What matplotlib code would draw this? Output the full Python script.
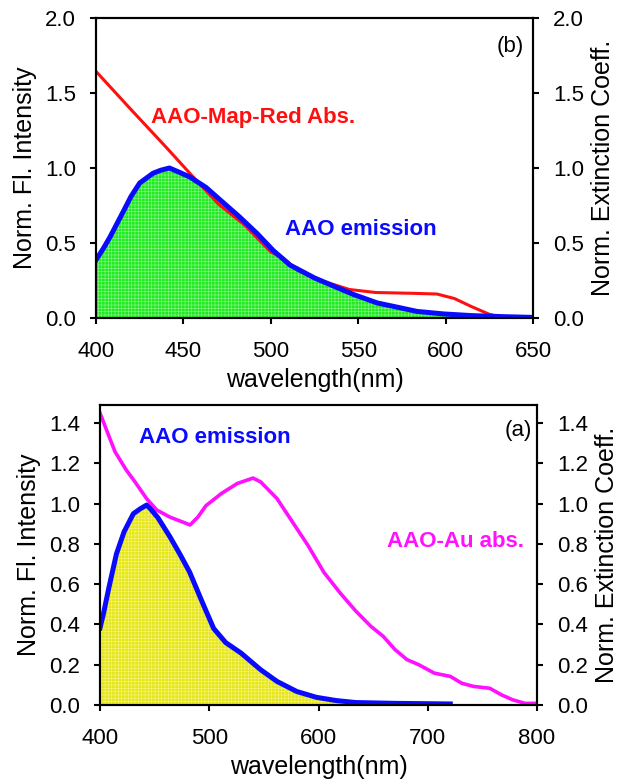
import numpy as np
import matplotlib
matplotlib.use("Agg")
import matplotlib.pyplot as plt

plt.rcParams["font.family"] = ["Liberation Sans", "DejaVu Sans"]
plt.rcParams["hatch.linewidth"] = 0.4

# -----------------------------------------------------
# Panel (b) data : AAO emission + AAO-Map-Red absorption
# -----------------------------------------------------
b_em_wl = [400, 404, 408, 415.6, 420, 425, 432.6, 437, 442, 447, 453.7, 463,
           472.7, 482, 492, 501.4, 511, 525, 538.5, 547.5, 561, 570, 583.6,
           599, 615, 633, 650]
b_em_val = [0.387, 0.46, 0.54, 0.71, 0.81, 0.90, 0.965, 0.985, 1.0, 0.975,
            0.94, 0.87, 0.77, 0.675, 0.565, 0.45, 0.353, 0.267, 0.20, 0.156,
            0.10, 0.078, 0.044, 0.027, 0.016, 0.009, 0.004]

b_abs_wl = [400, 420, 440, 455.6, 470, 485, 500, 507, 515, 530, 545, 560, 580,
            595, 605, 615, 625, 632, 650]
b_abs_val = [1.644, 1.39, 1.14, 0.94, 0.76, 0.62, 0.44, 0.40, 0.32, 0.245,
             0.19, 0.17, 0.165, 0.16, 0.13, 0.075, 0.025, 0.005, 0.0]

# -----------------------------------------------------
# Panel (a) data : AAO emission + AAO-Au absorption
# -----------------------------------------------------
a_em_wl = [400, 403, 408, 415, 422, 430.5, 437, 442.7, 446, 453, 464, 473,
           482, 494, 504, 515, 529, 547, 562, 580, 598, 616, 634, 670, 720.6]
a_em_val = [0.383, 0.45, 0.58, 0.75, 0.86, 0.95, 0.975, 0.993, 0.975, 0.93,
            0.835, 0.75, 0.66, 0.505, 0.38, 0.31, 0.258, 0.175, 0.117, 0.067,
            0.038, 0.022, 0.012, 0.008, 0.005]

a_abs_wl = [400, 406.5, 413.7, 424, 432, 442.6, 452, 464, 475, 482.4, 489.5,
            497, 511, 525.6, 540, 547, 562, 576, 590.6, 605, 619.5, 634, 648,
            659, 670, 681, 691.7, 706, 720.6, 731, 742, 756.7, 767.5, 778, 789,
            800]
a_abs_val = [1.45, 1.358, 1.258, 1.167, 1.108, 1.025, 0.968, 0.933, 0.91,
             0.894, 0.933, 0.99, 1.05, 1.10, 1.127, 1.108, 1.025, 0.91, 0.79,
             0.658, 0.558, 0.467, 0.39, 0.342, 0.275, 0.225, 0.20, 0.158,
             0.142, 0.108, 0.092, 0.083, 0.05, 0.025, 0.008, 0.008]

fig = plt.figure(figsize=(6.19, 7.8), dpi=100)

TICK = 16
LAB = 18
ANN = 16


def style_axes(ax, ax2, xlim, xticks, ylim, yticks):
    ax.set_xlim(*xlim)
    ax.set_ylim(*ylim)
    ax2.set_ylim(*ylim)
    ax.set_xticks(xticks)
    ax.set_yticks(yticks)
    ax2.set_yticks(yticks)
    ax.set_yticklabels([f"{v:.1f}" for v in yticks])
    ax2.set_yticklabels([f"{v:.1f}" for v in yticks])
    for a in (ax, ax2):
        for s in a.spines.values():
            s.set_linewidth(1.5)
        a.tick_params(direction="out", length=4.5, width=1.5, labelsize=TICK)
        a.tick_params(axis="y", pad=10)
    ax.tick_params(axis="x", pad=12, top=False)
    ax.set_xlabel("wavelength(nm)", fontsize=LAB, labelpad=4.5)
    ax.set_ylabel("Norm. Fl. Intensity", fontsize=LAB, labelpad=6)
    ax2.set_ylabel("Norm. Extinction Coeff.", fontsize=LAB, labelpad=5)


# ---------------------------------------------------
# TOP PANEL (b)
# ---------------------------------------------------
ax_b = fig.add_axes([0.1551, 0.5923, 0.7060, 0.3846])
ax_b2 = ax_b.twinx()

ax_b.fill_between(b_em_wl, 0, b_em_val, facecolor="#22ea22",
                  edgecolor="#90f590", hatch="+++++", linewidth=0, zorder=1)
ax_b.plot(b_abs_wl, b_abs_val, color="#ff1010", lw=2.2, zorder=2)
ax_b.plot(b_em_wl, b_em_val, color="#0a0aff", lw=3.6, zorder=3)

ax_b.text(431.5, 1.34, "AAO-Map-Red Abs.", color="#ff1010", fontsize=ANN,
          fontweight="bold", va="center", ha="left")
ax_b.text(508, 0.59, "AAO emission", color="#0a0aff", fontsize=ANN,
          fontweight="bold", va="center", ha="left")
ax_b.text(645, 1.81, "(b)", fontsize=16, va="center", ha="right")

style_axes(ax_b, ax_b2, (400, 650), [400, 450, 500, 550, 600, 650],
           (0, 2.0), [0.0, 0.5, 1.0, 1.5, 2.0])

# ---------------------------------------------------
# BOTTOM PANEL (a)
# ---------------------------------------------------
ax_a = fig.add_axes([0.1616, 0.0962, 0.7060, 0.3846])
ax_a2 = ax_a.twinx()

ax_a.fill_between(a_em_wl, 0, a_em_val, facecolor="#e6e61e",
                  edgecolor="#f5f580", hatch="+++++", linewidth=0, zorder=1)
ax_a.plot(a_abs_wl, a_abs_val, color="#ff10ff", lw=2.6, zorder=2)
ax_a.plot(a_em_wl, a_em_val, color="#0a0aff", lw=3.6, zorder=3)

ax_a.text(436, 1.33, "AAO emission", color="#0a0aff", fontsize=ANN,
          fontweight="bold", va="center", ha="left")
ax_a.text(663, 0.81, "AAO-Au abs.", color="#ff10ff", fontsize=ANN,
          fontweight="bold", va="center", ha="left")
ax_a.text(795, 1.365, "(a)", fontsize=16, va="center", ha="right")

style_axes(ax_a, ax_a2, (400, 800), [400, 500, 600, 700, 800],
           (0, 1.49), [0.0, 0.2, 0.4, 0.6, 0.8, 1.0, 1.2, 1.4])

fig.savefig("out.png", dpi=100)
